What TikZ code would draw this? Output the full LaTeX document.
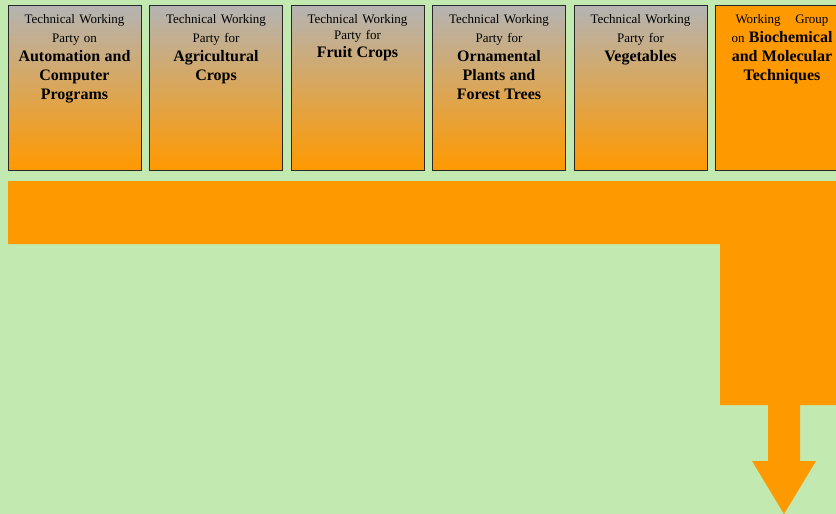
\documentclass[tikz,border=0pt]{standalone}
\usepackage{fontspec}
\setmainfont{Liberation Serif}
\usetikzlibrary{positioning}
\definecolor{wpgreen}{RGB}{194,234,176}
\definecolor{wporange}{RGB}{255,153,0}
\definecolor{wpgray}{RGB}{180,180,180}
\definecolor{wpline}{RGB}{40,40,40}
\newcommand{\wpsmall}{\fontsize{13}{19}\selectfont}
\newcommand{\wpbig}[1]{{\fontsize{16}{19}\selectfont\bfseries #1}}
\tikzset{
  wpbox/.style={draw=wpline,line width=0.8pt,minimum width=133pt,minimum height=165pt,
    inner sep=0pt,top color=wpgray,bottom color=wporange},
  wgbox/.style={draw=wpline,line width=0.8pt,minimum width=133pt,minimum height=165pt,
    inner sep=0pt,fill=wporange},
  wptext/.style={text width=118pt,align=center,inner sep=0pt,anchor=base,font=\wpsmall}
}
\begin{document}
\begin{tikzpicture}[x=1pt,y=-1pt]
  \useasboundingbox (0,0) rectangle (836,514);
  \fill [wpgreen] (0,0) rectangle (836,514);
  \clip (0,0) rectangle (836,514);
  % working parties
  \node (b1) [wpbox] at (74.5,87.5) {};
  \node (b2) [wpbox, right=7.7pt of b1] {};
  \node (b3) [wpbox, right=7.7pt of b2] {};
  \node (b4) [wpbox, right=7.7pt of b3] {};
  \node (b5) [wpbox, right=7.7pt of b4] {};
  \node (b6) [wgbox, right=7.7pt of b5] {};
  \node (t1) [wptext] at ([yshift=-18.5pt]b1.north)
    {Technical Working\\Party on\\\wpbig{Automation and\\Computer\\Programs}};
  \node (t2) [wptext] at ([yshift=-18.5pt]b2.north)
    {Technical Working\\Party for\\\wpbig{Agricultural\\Crops}};
  \node (t3) [wptext] at ([yshift=-18.5pt]b3.north)
    {Technical Working\\{\fontsize{13}{16}\selectfont Party for\\}{\fontsize{16}{18.5}\selectfont\bfseries Fruit Crops\\}};
  \node (t4) [wptext] at ([yshift=-18.5pt]b4.north)
    {Technical Working\\Party for\\\wpbig{Ornamental\\Plants and\\Forest Trees}};
  \node (t5) [wptext] at ([yshift=-18.5pt]b5.north)
    {Technical Working\\Party for\\\wpbig{Vegetables}};
  \node (t6) [wptext, text width=106pt] at ([yshift=-18.5pt]b6.north)
    {\hbox to 93pt{Working\hfill Group}\\\mbox{on \wpbig{Biochemical}}\\\wpbig{and Molecular\\Techniques}};
  % flow
  \fill [wporange] (8,181) -- (840,181) -- (840,405) -- (800,405) -- (800,461)
    -- (816,461) -- (784,514) -- (752,461) -- (768,461) -- (768,405)
    -- (720,405) -- (720,244) -- (8,244) -- cycle;
\end{tikzpicture}
\end{document}
